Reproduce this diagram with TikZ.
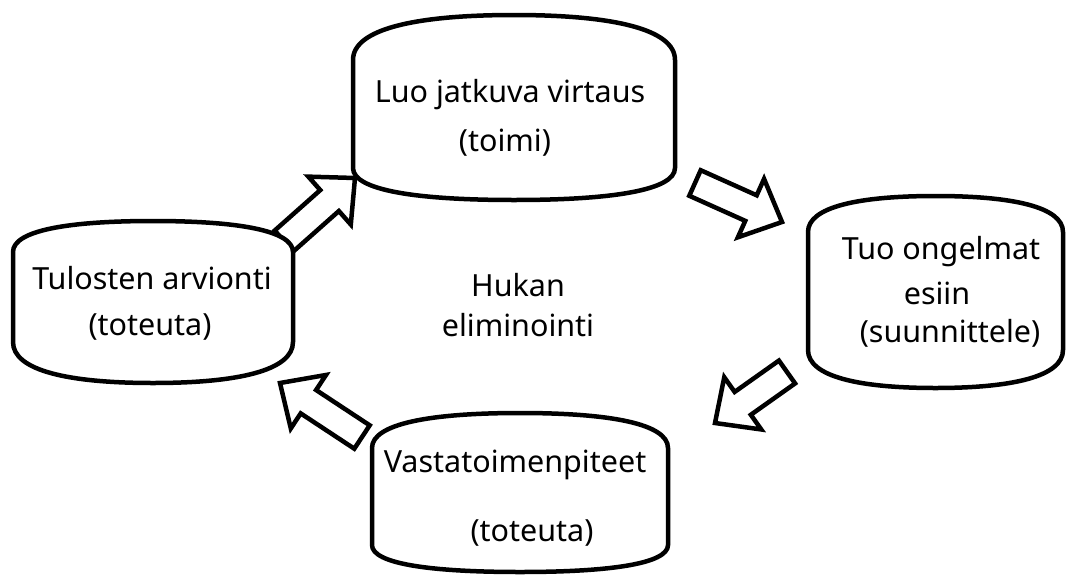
\documentclass[tikz,border=0pt]{standalone}
\usepackage{fontspec}
\setmainfont{Noto Sans}
\usetikzlibrary{calc}
\newcommand\barrel[6]{% L R T sT sB B
  \draw[box] (#1,#4) .. controls (#1,{#4-0.7*(#4-#3)}) and ({#1+0.2*(#2-#1)},#3) .. ({(#1+#2)/2},#3)
    .. controls ({#2-0.2*(#2-#1)},#3) and (#2,{#4-0.7*(#4-#3)}) .. (#2,#4)
    -- (#2,#5) .. controls (#2,{#5+0.7*(#6-#5)}) and ({#2-0.2*(#2-#1)},#6) .. ({(#1+#2)/2},#6)
    .. controls ({#1+0.2*(#2-#1)},#6) and (#1,{#5+0.7*(#6-#5)}) .. (#1,#5) -- cycle;}
\newcommand\blockarrow[2]{% tail, tip
  \coordinate (hb) at ($(#2)!34pt!(#1)$);
  \draw[barr] ($(#1)!14pt!90:(#2)$) -- ($(hb)!14pt!90:(#2)$) -- ($(hb)!32pt!90:(#2)$) -- (#2)
    -- ($(hb)!32pt!-90:(#2)$) -- ($(hb)!14pt!-90:(#2)$) -- ($(#1)!14pt!-90:(#2)$) -- cycle;}
\begin{document}
\begin{tikzpicture}[x=1pt,y=-1pt,
  box/.style={draw=black,line width=4.5pt,fill=white},
  barr/.style={draw=black,line width=4.5pt,fill=white,line join=miter},
  lbl/.style={font=\fontsize{30.5}{36}\selectfont,inner sep=0pt,anchor=center}]
\useasboundingbox (0,0) rectangle (1066,576);
% block arrows (drawn first, boxes cover their tails)
\coordinate (a1s) at (284,241); \coordinate (a1e) at (355,178);
\coordinate (a2s) at (695,183); \coordinate (a2e) at (782,222);
\coordinate (a3s) at (787,372); \coordinate (a3e) at (715,423);
\coordinate (a4s) at (362,437); \coordinate (a4e) at (280,383);
\blockarrow{a1s}{a1e}
\blockarrow{a2s}{a2e}
\blockarrow{a3s}{a3e}
\blockarrow{a4s}{a4e}
% boxes
\barrel{353}{675}{15}{60}{168}{200}
\barrel{13}{293}{221}{252}{342}{383}
\barrel{808}{1063}{196}{232}{350}{388}
\barrel{372}{668}{413}{448}{545}{572}
% texts
\node[lbl] (luo1) at (510,95) {Luo jatkuva virtaus};
\node[lbl] (luo2) at (505,143) {(toimi)};
\node[lbl] (tul1) at (152,278) {Tulosten arvionti};
\node[lbl] (tul2) at (150,327) {(toteuta)};
\node[lbl] (tuo1) at (941,252) {Tuo ongelmat};
\node[lbl] (tuo2) at (937,293) {esiin};
\node[lbl] (tuo3) at (950,333) {(suunnittele)};
\node[lbl] (vas1) at (515,465) {Vastatoimenpiteet};
\node[lbl] (vas2) at (532,533) {(toteuta)};
\node[lbl] (huk1) at (518,285) {Hukan};
\node[lbl] (huk2) at (518,325) {eliminointi};
\end{tikzpicture}
\end{document}
